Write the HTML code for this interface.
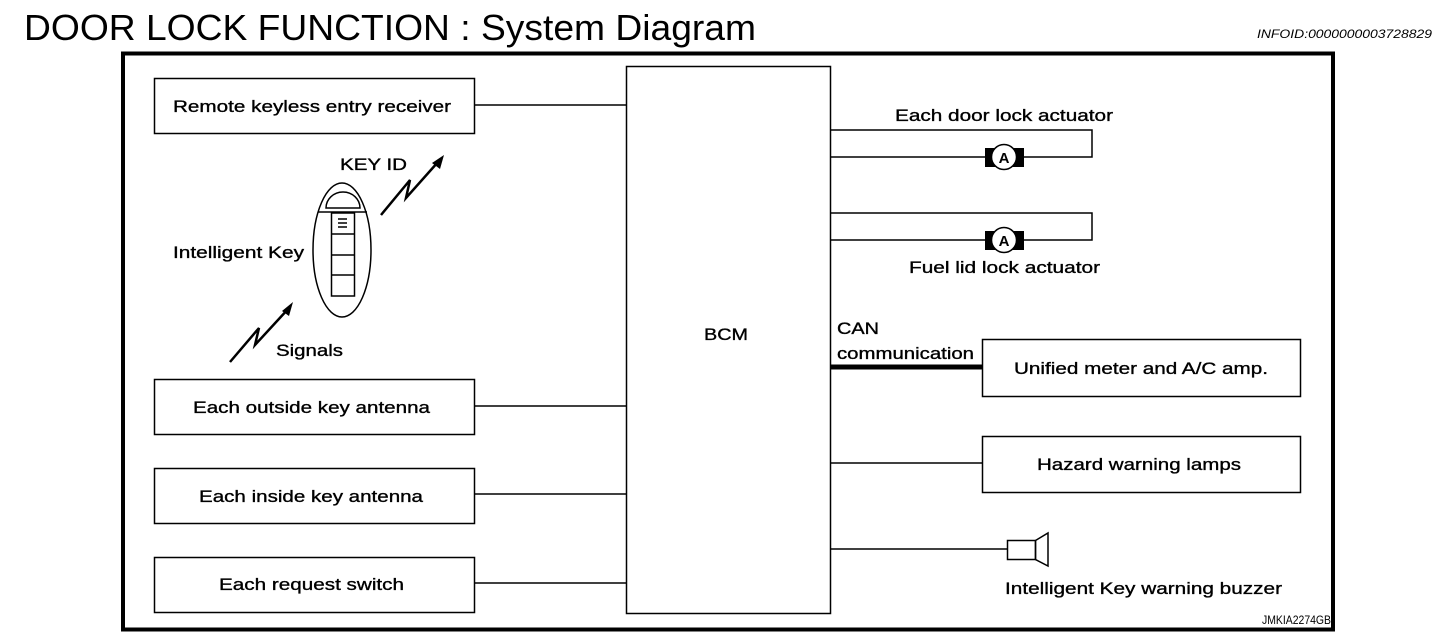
<!DOCTYPE html>
<html><head><meta charset="utf-8"><style>
html,body{margin:0;padding:0;background:#fff;}
svg{display:block;}
text{font-family:"Liberation Sans",sans-serif;fill:#000;}
.l{stroke:#000;stroke-width:0.35;}
</style></head><body>
<svg width="1456" height="644" viewBox="0 0 1456 644" xmlns="http://www.w3.org/2000/svg">
<text x="24" y="40" font-size="36" textLength="732" lengthAdjust="spacingAndGlyphs">DOOR LOCK FUNCTION : System Diagram</text>
<text x="1257" y="38" font-size="12" font-style="italic" textLength="175" lengthAdjust="spacingAndGlyphs">INFOID:0000000003728829</text>
<rect x="123" y="53.5" width="1210" height="576" fill="none" stroke="#000" stroke-width="4"/>
<g fill="none" stroke="#000" stroke-width="1.5">
<rect x="154.5" y="78.5" width="320" height="55"/>
<rect x="154.5" y="379.5" width="320" height="55"/>
<rect x="154.5" y="468.5" width="320" height="55"/>
<rect x="154.5" y="557.5" width="320" height="55"/>
<rect x="626.5" y="66.5" width="204" height="547"/>
<rect x="982.5" y="339.5" width="318" height="57"/>
<rect x="982.5" y="436.5" width="318" height="56"/>
<line x1="474" y1="105" x2="626" y2="105"/>
<line x1="474" y1="406" x2="626" y2="406"/>
<line x1="474" y1="494" x2="626" y2="494"/>
<line x1="474" y1="583" x2="626" y2="583"/>
<polyline points="830,130 1092,130 1092,157 830,157"/>
<polyline points="830,213 1092,213 1092,240 830,240"/>
<line x1="830" y1="463" x2="982" y2="463"/>
<line x1="830" y1="549" x2="1007" y2="549"/>
<rect x="1007.5" y="540.5" width="28" height="19"/>
<polygon points="1035.5,540.5 1048,533 1048,566 1035.5,559.5"/>
<ellipse cx="342" cy="250" rx="29" ry="67"/>
<path d="M326,208 A17,16 0 0 1 360,208 Z"/>
<line x1="318" y1="212" x2="367" y2="212"/>
<rect x="331.5" y="213" width="23" height="83"/>
<line x1="331" y1="234" x2="355" y2="234"/>
<line x1="331" y1="255" x2="355" y2="255"/>
<line x1="331" y1="275" x2="355" y2="275"/>
<line x1="338" y1="219" x2="347" y2="219"/>
<line x1="338" y1="223" x2="347" y2="223"/>
<line x1="338" y1="227" x2="347" y2="227"/>
</g>
<line x1="830" y1="367" x2="982" y2="367" stroke="#000" stroke-width="5"/>
<g stroke="#000" stroke-width="2.5" fill="none">
<polyline points="381,215 410,180 406,198 438,162"/>
<polyline points="230,362 259,328 255,345 289,308"/>
</g>
<polygon points="444,155 432,163 440,169" fill="#000"/>
<polygon points="293,302 282,311 289,316" fill="#000"/>
<g>
<rect x="985" y="148" width="39" height="19" fill="#000"/>
<circle cx="1004" cy="157" r="12.5" fill="#fff" stroke="#000" stroke-width="1.5"/>
<text x="1004" y="163" font-size="15" font-weight="bold" text-anchor="middle">A</text>
<rect x="985" y="231" width="39" height="19" fill="#000"/>
<circle cx="1004" cy="240" r="12.5" fill="#fff" stroke="#000" stroke-width="1.5"/>
<text x="1004" y="246" font-size="15" font-weight="bold" text-anchor="middle">A</text>
</g>
<g font-size="17" class="l" lengthAdjust="spacingAndGlyphs">
<text x="173" y="112" textLength="278" lengthAdjust="spacingAndGlyphs">Remote keyless entry receiver</text>
<text x="193" y="413" textLength="237" lengthAdjust="spacingAndGlyphs">Each outside key antenna</text>
<text x="199" y="502" textLength="224" lengthAdjust="spacingAndGlyphs">Each inside key antenna</text>
<text x="219" y="590" textLength="185" lengthAdjust="spacingAndGlyphs">Each request switch</text>
<text x="340" y="170" textLength="67" lengthAdjust="spacingAndGlyphs">KEY ID</text>
<text x="173" y="258" textLength="131" lengthAdjust="spacingAndGlyphs">Intelligent Key</text>
<text x="276" y="356" textLength="67" lengthAdjust="spacingAndGlyphs">Signals</text>
<text x="704" y="340" textLength="44" lengthAdjust="spacingAndGlyphs">BCM</text>
<text x="895" y="121" textLength="218" lengthAdjust="spacingAndGlyphs">Each door lock actuator</text>
<text x="909" y="273" textLength="191" lengthAdjust="spacingAndGlyphs">Fuel lid lock actuator</text>
<text x="837" y="334" textLength="42" lengthAdjust="spacingAndGlyphs">CAN</text>
<text x="837" y="359" textLength="137" lengthAdjust="spacingAndGlyphs">communication</text>
<text x="1014" y="374" textLength="254" lengthAdjust="spacingAndGlyphs">Unified meter and A/C amp.</text>
<text x="1037" y="470" textLength="204" lengthAdjust="spacingAndGlyphs">Hazard warning lamps</text>
<text x="1005" y="594" textLength="277" lengthAdjust="spacingAndGlyphs">Intelligent Key warning buzzer</text>
</g>
<text x="1262" y="624" font-size="12" textLength="69" lengthAdjust="spacingAndGlyphs">JMKIA2274GB</text>
</svg>
</body></html>
